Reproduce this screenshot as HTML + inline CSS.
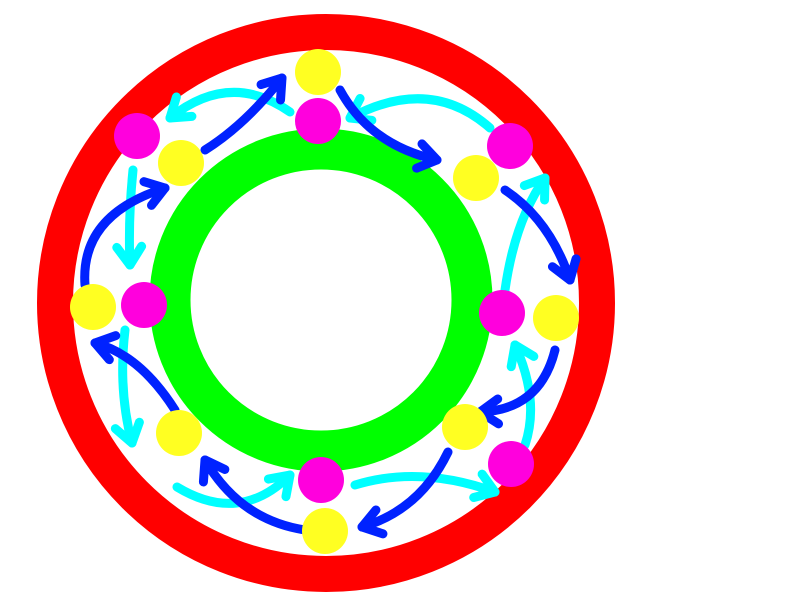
<!DOCTYPE html>
<html><head><meta charset="utf-8"><style>html,body{margin:0;padding:0;background:#fff}svg{display:block}</style></head>
<body>
<svg id="c" width="800" height="600" viewBox="0 0 800 600">
<rect width="800" height="600" fill="#fff"/>
<circle cx="326" cy="303" r="271" fill="none" stroke="#ff0000" stroke-width="36"/>
<circle cx="321" cy="300" r="151" fill="none" stroke="#00ff00" stroke-width="41"/>
<g id="arrows"></g>
<g id="dots"></g>
</svg>
<script>
const yellowDots=[[318,72],[181,163],[476,178],[93,307],[556,318],[179,433],[465,427],[325,531]];
const magentaDots=[[318,121],[137,136],[510,146],[144,305],[502,313],[511,464],[321,480]];
const blueArrows=[[205,150,245,125,282,78],[340,90,370,145,437,160],[505,190,550,220,570,280],[555,350,540,410,480,412],[448,452,420,510,362,527],[305,530,240,520,205,460],[175,410,140,355,95,343],[85,285,80,215,165,188]];
const cyanArrows=[[290,112,230,70,170,118],[490,128,430,75,350,118],[505,290,515,220,545,178],[525,445,540,400,515,345],[355,485,420,465,495,492],[177,487,240,525,290,475],[125,330,118,390,132,443],[133,170,128,220,130,265]];
const NS='http://www.w3.org/2000/svg';
const ag=document.getElementById('arrows'),dg=document.getElementById('dots');
function arrow(a,col,name){
  const [x0,y0,cx,cy,x1,y1]=a;
  const p=document.createElementNS(NS,'path');
  p.setAttribute('d',`M${x0},${y0} Q${cx},${cy} ${x1},${y1}`);
  p.setAttribute('fill','none');p.setAttribute('stroke',col);p.setAttribute('stroke-width','9');
  p.setAttribute('stroke-linecap','round');p.setAttribute('stroke-linejoin','round');
  
  
  ag.appendChild(p);
  const ang=Math.atan2(y1-cy,x1-cx),L=22,s=0.6;
  const h=document.createElementNS(NS,'polyline');
  h.setAttribute('points',`${x1-L*Math.cos(ang-s)},${y1-L*Math.sin(ang-s)} ${x1},${y1} ${x1-L*Math.cos(ang+s)},${y1-L*Math.sin(ang+s)}`);
  h.setAttribute('fill','none');h.setAttribute('stroke',col);h.setAttribute('stroke-width','9');
  h.setAttribute('stroke-linecap','round');h.setAttribute('stroke-linejoin','round');
  
  
  ag.appendChild(h);
}
cyanArrows.forEach((a,i)=>arrow(a,'#00ffff','cyan-arrow-'+(i+1)));
blueArrows.forEach((a,i)=>arrow(a,'#0022ff','blue-arrow-'+(i+1)));
function dot(d,col,name){
  const c=document.createElementNS(NS,'circle');
  c.setAttribute('cx',d[0]);c.setAttribute('cy',d[1]);c.setAttribute('r','23');c.setAttribute('fill',col);
  
  
  dg.appendChild(c);
}
yellowDots.forEach((d,i)=>dot(d,'#ffff22','yellow-dot-'+(i+1)));
magentaDots.forEach((d,i)=>dot(d,'#ff00dd','magenta-dot-'+(i+1)));
</script>
</body></html>
